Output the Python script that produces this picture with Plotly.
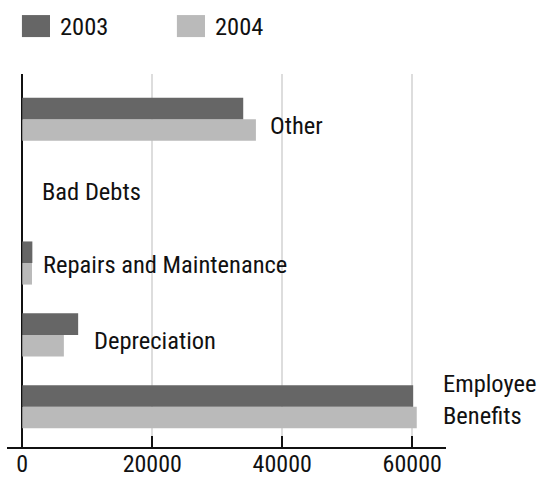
import plotly.graph_objects as go

# Expense categories, listed bottom to top
categories = ["Employee Benefits", "Depreciation", "Repairs and Maintenance", "Bad Debts", "Other"]
label_text = ["Employee<br>Benefits", "Depreciation", "Repairs and Maintenance", "Bad Debts", "Other"]
values_2003 = [60150, 8600, 1550, 0, 34000]
values_2004 = [60700, 6400, 1500, 0, 35950]
x_ticks = [0, 20000, 40000, 60000]

FONT = "'Roboto Condensed', Roboto, sans-serif"
DARK = "#666666"
LIGHT = "#bababa"
INK = "#111111"

fig = go.Figure()
# 2004 first so that 2003 sits on top within each group
fig.add_trace(go.Bar(y=categories, x=values_2004, orientation="h", name="2004",
                     marker=dict(color=LIGHT, line=dict(width=0)), showlegend=False))
fig.add_trace(go.Bar(y=categories, x=values_2003, orientation="h", name="2003",
                     marker=dict(color=DARK, line=dict(width=0)), showlegend=False))

# category labels placed just past the longer bar of each group
label_dx = [24, 14, 9, 18, 12]
label_dy = [7, -6, -1, 0, -6]
for cat, txt, a, b, dx, dy in zip(categories, label_text, values_2003, values_2004, label_dx, label_dy):
    fig.add_annotation(x=max(a, b), y=cat, text=txt, xanchor="left", yanchor="middle",
                       align="left", showarrow=False, xshift=dx, yshift=dy,
                       font=dict(family=FONT, size=24.5, color=INK))

# legend drawn as swatches with text
legend_items = [("2003", DARK, 0.034), ("2004", LIGHT, 0.387)]
for name, color, x0 in legend_items:
    fig.add_shape(type="rect", xref="paper", yref="paper", x0=x0, x1=x0 + 0.064,
                  y0=1.099, y1=1.158, fillcolor=color, line=dict(width=0))
    fig.add_annotation(xref="paper", yref="paper", x=x0 + 0.082, y=1.128, text=name,
                       xanchor="left", yanchor="middle", showarrow=False,
                       font=dict(family=FONT, size=24.5, color=INK))

fig.update_layout(
    barmode="group", bargap=0.4, bargroupgap=0,
    width=538, height=478,
    margin=dict(l=7, r=92, t=74, b=31, autoexpand=False),
    paper_bgcolor="white", plot_bgcolor="white",
    font=dict(family=FONT, size=24.5, color=INK),
    xaxis=dict(range=[-2350, 65200], tickvals=x_ticks, ticktext=[str(v) for v in x_ticks],
               showgrid=True, gridcolor="#dddddd", gridwidth=2,
               zeroline=True, zerolinecolor=INK, zerolinewidth=2,
               showline=True, linecolor=INK, linewidth=2,
               ticks="inside", ticklen=11, tickwidth=2, tickcolor=INK,
               ticklabelstandoff=-6,
               tickfont=dict(family=FONT, size=24, color=INK), automargin=False),
    yaxis=dict(categoryorder="array", categoryarray=categories, range=[-0.56, 4.63],
               showticklabels=False, showgrid=False, zeroline=False, showline=False,
               automargin=False),
)

fig.write_html("out.html")
